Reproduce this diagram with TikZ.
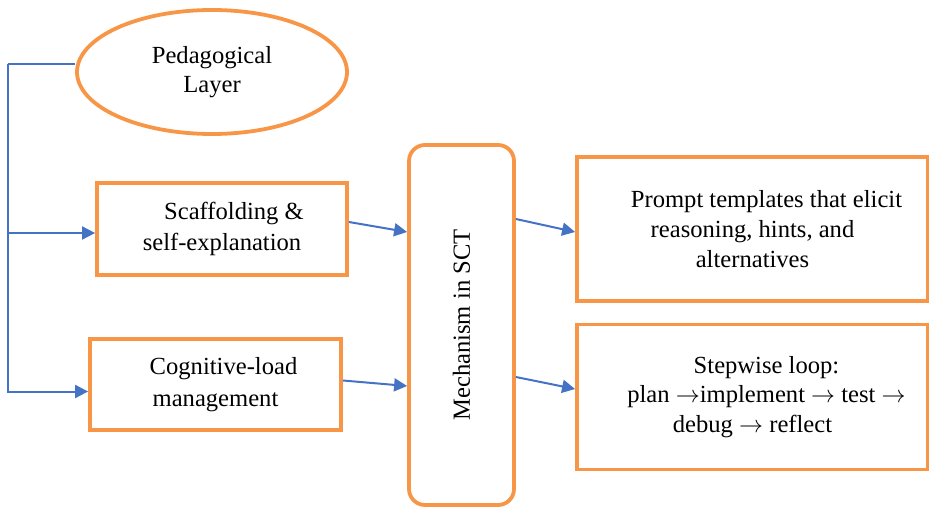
\documentclass[tikz,border=0pt]{standalone}
\usepackage{fontspec}
\setmainfont{Liberation Serif}
\usetikzlibrary{shapes.geometric,arrows.meta}
\definecolor{boxorange}{HTML}{F79646}
\definecolor{lineblue}{HTML}{4472C4}
\tikzset{
  box/.style={draw=boxorange, line width=1.9pt, rectangle, align=center,
    font=\fontsize{12.3}{14.8}\selectfont},
  line/.style={draw=lineblue, line width=1pt},
  arr/.style={line, -{Triangle[length=6.5pt,width=6.5pt]}}
}

\begin{document}
\begin{tikzpicture}[x=0.5pt,y=-0.5pt]
        \useasboundingbox (0,0) rectangle (929,507);
        \node [box, ellipse, minimum width=135pt, minimum height=62pt] (1) at (212,72) {Pedagogical\\Layer};
        \node [box, minimum width=125pt, minimum height=46pt] (2) at (222,229) {\hspace*{12pt}Scaffolding \&\\[1pt]self-explanation};
        \node [box, minimum width=125.5pt, minimum height=45.5pt] (3) at (215.5,384.5) {\hspace*{8pt}Cognitive-load\\[1pt]management};
        \node [box, rounded corners=8pt, minimum width=52.5pt, minimum height=180pt] (4) at (461.5,325) {};
        \node [rotate=90, font=\fontsize{12.3}{14.8}\selectfont] at (4.center) {Mechanism in SCT};
        \node [box, minimum width=175.5pt, minimum height=72pt] (5) at (752.5,229) {\hspace*{14pt}Prompt templates that elicit\\reasoning, hints, and\\alternatives};
        \node [box, minimum width=175.5pt, minimum height=72.5pt] (6) at (752.5,397) {\hspace*{14pt}Stepwise loop:\\\hspace*{14pt}plan $\rightarrow$implement $\rightarrow$ test $\rightarrow$\\debug $\rightarrow$ reflect};
        \coordinate (bus) at (8,64);

        \draw[line] ([yshift=4pt]1.west) -- (bus);
        \draw[arr] (bus) |- ([yshift=-2pt]2.west);
        \draw[arr] (bus) |- ([yshift=-3.5pt]3.west);
        \draw[arr] ([yshift=3.5pt]2.east) -- ([yshift=46.5pt]4.west);
        \draw[arr] ([yshift=2pt]3.east) -- ([yshift=-30.5pt]4.west);
        \draw[arr] ([yshift=53pt]4.east) -- ([yshift=-1.5pt]5.west);
        \draw[arr] ([yshift=-26pt]4.east) -- ([yshift=4pt]6.west);
      \end{tikzpicture}
\end{document}
